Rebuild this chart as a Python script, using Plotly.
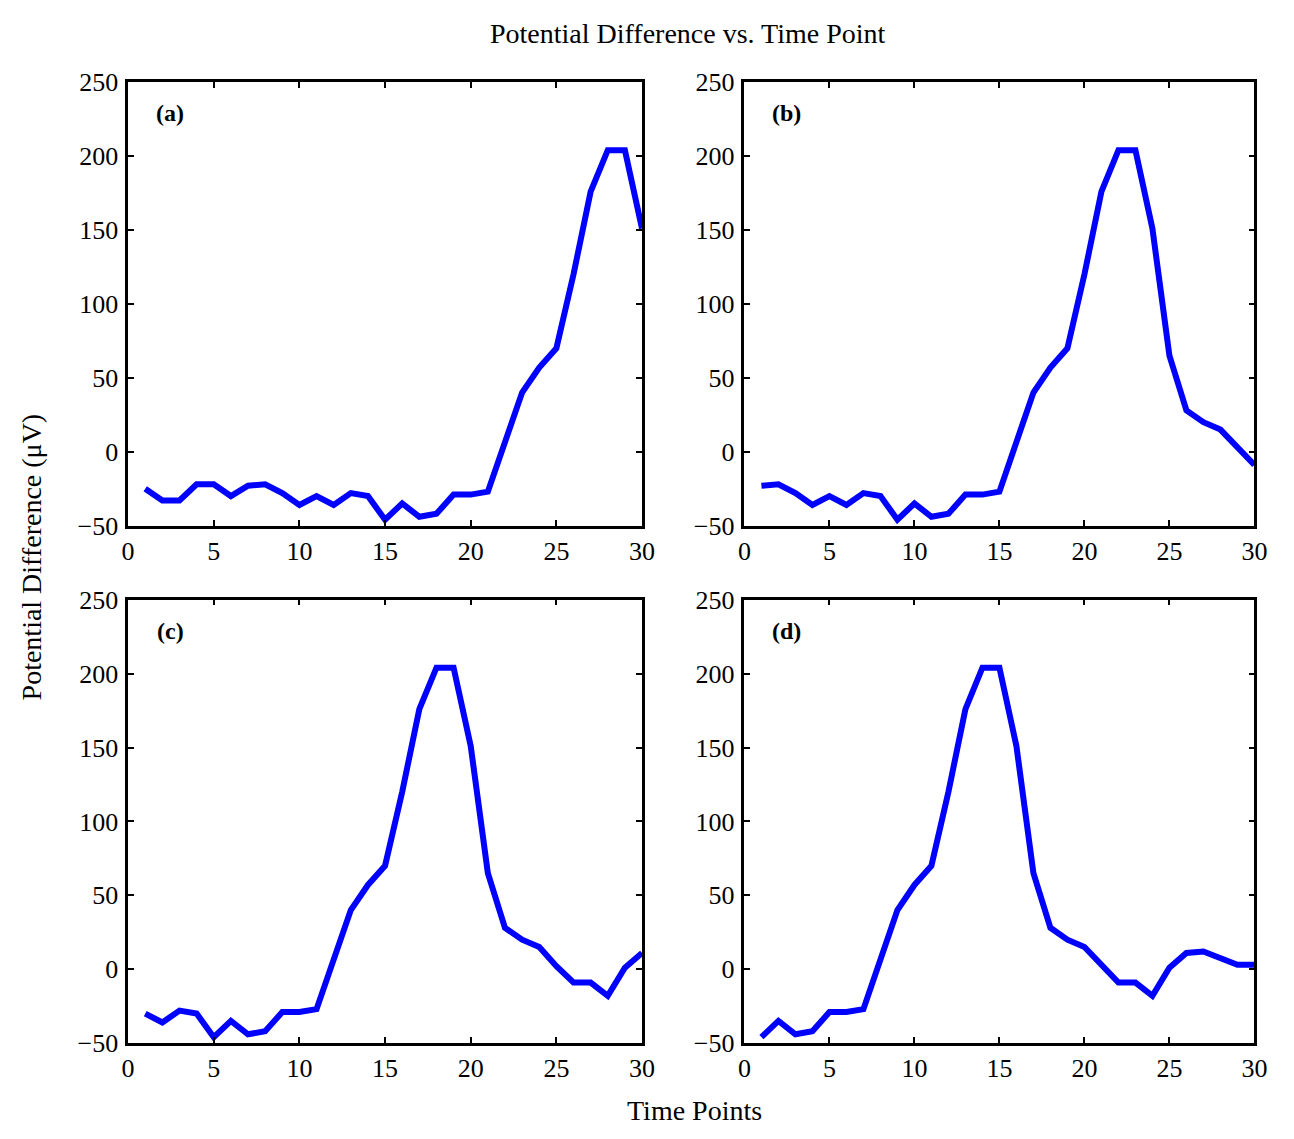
import plotly.graph_objects as go

# ---- data ----
time_points = list(range(1, 31))

panel_a = [-25, -33, -33, -22, -22, -30, -23, -22, -28, -36, -30, -36, -28, -30, -46,
           -35, -44, -42, -29, -29, -27, 8, 40, 57, 70, 120, 176, 204, 204, 151]
panel_b = [-23, -22, -28, -36, -30, -36, -28, -30, -46, -35, -44, -42, -29, -29, -27,
           8, 40, 57, 70, 120, 176, 204, 204, 151, 65, 28, 20, 15, 3, -9]
panel_c = [-30, -36, -28, -30, -46, -35, -44, -42, -29, -29, -27, 8, 40, 57, 70,
           120, 176, 204, 204, 151, 65, 28, 20, 15, 2, -9, -9, -18, 1, 11]
panel_d = [-46, -35, -44, -42, -29, -29, -27, 8, 40, 57, 70, 120, 176, 204, 204,
           151, 65, 28, 20, 15, 3, -9, -9, -18, 1, 11, 12, 7, 3, 3]

panel_labels = ["(a)", "(b)", "(c)", "(d)"]
x_ticks = [0, 5, 10, 15, 20, 25, 30]
y_ticks = [-50, 0, 50, 100, 150, 200, 250]

title_text = "Potential Difference vs. Time Point"
x_title = "Time Points"
y_title = "Potential Difference (\u03bcV)"

# ---- layout ----
W, H = 1294, 1139
FONT = "Liberation Serif, Times New Roman, serif"

# pixel boxes (left, right, top, bottom)
boxes = [(123, 645, 70, 525), (749, 1267, 70, 525),
         (123, 645, 601, 1056), (749, 1267, 601, 1056)]

fig = go.Figure()
series = [panel_a, panel_b, panel_c, panel_d]

layout = dict(
    width=W, height=H,
    margin=dict(l=0, r=0, t=0, b=0),
    paper_bgcolor="white", plot_bgcolor="white",
    showlegend=False,
    font=dict(family=FONT, size=26, color="black"),
)

annotations = []
for i, (vals, lab, box) in enumerate(zip(series, panel_labels, boxes)):
    n = "" if i == 0 else str(i + 1)
    xa, ya = "x" + n, "y" + n
    fig.add_trace(go.Scatter(x=time_points, y=vals, mode="lines",
                             line=dict(color="#0000ff", width=6),
                             xaxis=xa, yaxis=ya, cliponaxis=True))
    l, r, t, b = box
    common = dict(showline=True, mirror="ticks", linecolor="black", linewidth=2.5,
                  ticks="inside", ticklen=6, tickwidth=2, tickcolor="black",
                  showgrid=False, zeroline=False,
                  tickfont=dict(family=FONT, size=26, color="black"))
    layout["xaxis" + n] = dict(domain=[l / W, r / W], range=[0, 30],
                               tickvals=x_ticks, anchor=ya,
                               ticklabelstandoff=0, **common)
    layout["yaxis" + n] = dict(domain=[1 - b / H, 1 - t / H], range=[-50, 250],
                               tickvals=y_ticks, anchor=xa,
                               ticklabelstandoff=2, **common)
    annotations.append(dict(text="<b>" + lab + "</b>", x=2.45, y=229,
                            xref=xa, yref=ya, showarrow=False,
                            font=dict(family=FONT, size=24, color="black")))

annotations.append(dict(text=title_text, x=692 / W, y=1 - 20 / H, xref="paper", yref="paper",
                        showarrow=False, xanchor="center", yanchor="middle",
                        font=dict(family=FONT, size=28, color="black")))
annotations.append(dict(text=x_title, x=698 / W, y=1 - 1125 / H, xref="paper", yref="paper",
                        showarrow=False, xanchor="center", yanchor="middle",
                        font=dict(family=FONT, size=28, color="black")))
annotations.append(dict(text=y_title, x=25 / W, y=1 - 557 / H, xref="paper", yref="paper",
                        showarrow=False, xanchor="center", yanchor="middle", textangle=-90,
                        font=dict(family=FONT, size=28, color="black")))
layout["annotations"] = annotations

fig.update_layout(**layout)
fig.write_html("out.html")
